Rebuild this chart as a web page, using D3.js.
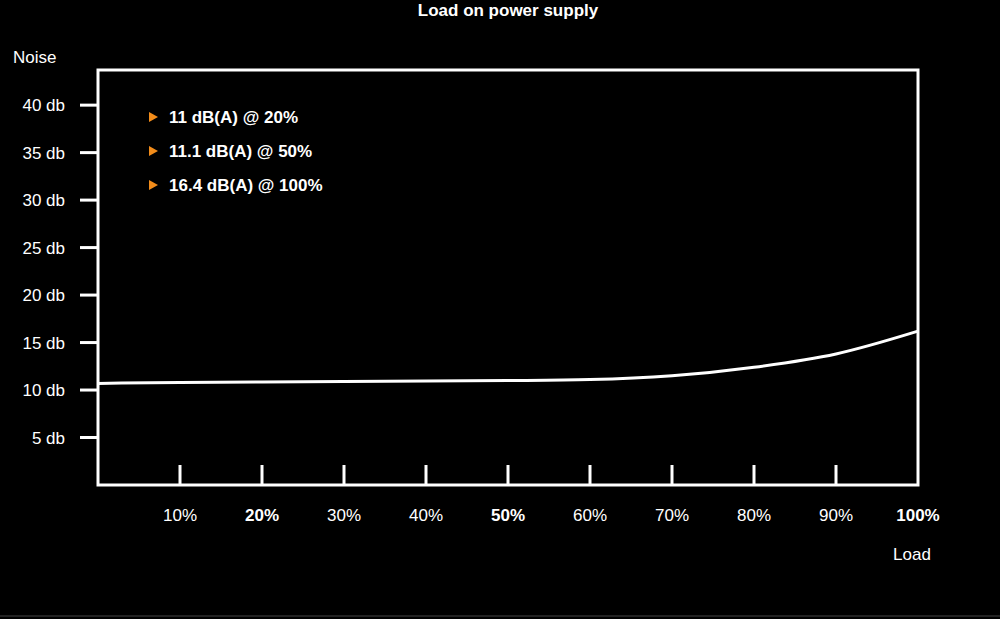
<!DOCTYPE html>
<html><head><meta charset="utf-8">
<script src="https://cdn.jsdelivr.net/npm/d3@7"></script>
<style>body{margin:0;background:#000}svg{display:block}text{font-family:"Liberation Sans",Arial,sans-serif;fill:#fff}</style>
</head><body><div id="box"></div>
<script>
// data
const loads = [0, 10, 20, 30, 40, 50, 60, 70, 80, 90, 100];
const noise = [10.7, 10.8, 10.85, 10.9, 10.95, 11.0, 11.1, 11.5, 12.4, 13.8, 16.2];
const xTicks = [10, 20, 30, 40, 50, 60, 70, 80, 90, 100];
const boldTicks = [20, 50, 100];
const yTicks = [5, 10, 15, 20, 25, 30, 35, 40];
const notes = ['11 dB(A) @ 20%', '11.1 dB(A) @ 50%', '16.4 dB(A) @ 100%'];

const width = 1000, height = 619;
const padLeft = 98, padRight = 918, padTop = 70, padBottom = 485;

const svg = d3.select('#box').append('svg').attr('width', width).attr('height', height);

const x = d3.scaleLinear().domain([0, 100]).range([padLeft, padRight]);
const y = d3.scaleLinear().domain([0, 43.7]).range([padBottom, padTop]);

svg.append('text').attr('x', 508).attr('y', 16).attr('text-anchor', 'middle')
  .style('font-size', '17px').style('font-weight', 'bold').text('Load on power supply');

svg.append('rect').attr('x', padLeft).attr('y', padTop).attr('width', padRight - padLeft).attr('height', padBottom - padTop)
  .attr('fill', 'none').attr('stroke', '#fff').attr('stroke-width', 3);

// y ticks
svg.selectAll('.yt').data(yTicks).join('line')
  .attr('x1', 80).attr('x2', padLeft).attr('y1', d => y(d)).attr('y2', d => y(d))
  .attr('stroke', '#fff').attr('stroke-width', 3);
svg.selectAll('.yl').data(yTicks).join('text')
  .attr('x', 65).attr('y', d => y(d) + 6).attr('text-anchor', 'end')
  .style('font-size', '17px').text(d => d + ' db');
svg.append('text').attr('x', 13).attr('y', 63).style('font-size', '17px').text('Noise');

// x ticks
svg.selectAll('.xt').data(xTicks.filter(d => d < 100)).join('line')
  .attr('x1', d => x(d)).attr('x2', d => x(d)).attr('y1', 465).attr('y2', padBottom)
  .attr('stroke', '#fff').attr('stroke-width', 3);
svg.selectAll('.xl').data(xTicks).join('text')
  .attr('x', d => x(d)).attr('y', 521).attr('text-anchor', 'middle')
  .style('font-size', '17px').style('font-weight', d => boldTicks.includes(d) ? 'bold' : 'normal')
  .text(d => d + '%');
svg.append('text').attr('x', 912).attr('y', 560).attr('text-anchor', 'middle').style('font-size', '17px').text('Load');

// curve
const line = d3.line().x((d, i) => x(loads[i])).y(d => y(d)).curve(d3.curveMonotoneX);
svg.append('path').datum(noise).attr('d', line).attr('fill', 'none').attr('stroke', '#fff').attr('stroke-width', 3);

// notes
const g = svg.selectAll('.note').data(notes).join('g').attr('transform', (d, i) => `translate(149,${117 + i * 34})`);
g.append('path').attr('d', 'M0,-5 L9,0 L0,5 Z').attr('fill', '#f28c1a');
g.append('text').attr('x', 20).attr('y', 6).style('font-size', '17px').style('font-weight', 'bold').text(d => d);

svg.append('line').attr('x1', 0).attr('x2', width).attr('y1', 616).attr('y2', 616).attr('stroke', '#444');
</script></body></html>
